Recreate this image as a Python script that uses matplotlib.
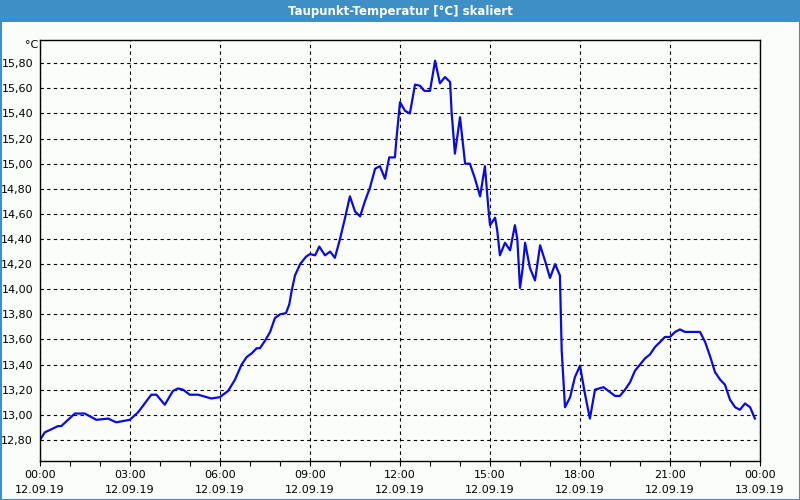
import matplotlib.pyplot as plt
from matplotlib.patches import Rectangle

# hours since 12.09.19 00:00 and dew point values
hours = [0.0, 0.16, 0.6, 0.71, 1.16, 1.49, 1.88, 2.27, 2.54, 2.99, 3.27, 3.49, 3.71, 3.88,
         4.16, 4.43, 4.6, 4.77, 4.99, 5.27, 5.71, 5.99, 6.27, 6.5, 6.72, 6.89, 7.06, 7.22,
         7.33, 7.5, 7.67, 7.83, 8.0, 8.2, 8.31, 8.39, 8.5, 8.67, 8.87, 9.0, 9.17, 9.31, 9.5,
         9.67, 9.83, 10.0, 10.17, 10.33, 10.5, 10.67, 10.83, 11.0, 11.17, 11.33, 11.5, 11.64,
         11.83, 11.89, 12.0, 12.17, 12.33, 12.5, 12.67, 12.81, 13.0, 13.17, 13.33, 13.5,
         13.67, 13.72, 13.83, 13.89, 14.0, 14.17, 14.33, 14.5, 14.67, 14.83, 14.94, 15.0,
         15.17, 15.24, 15.33, 15.5, 15.67, 15.83, 15.91, 16.0, 16.09, 16.17, 16.33, 16.5,
         16.67, 16.83, 17.0, 17.17, 17.33, 17.39, 17.5, 17.67, 17.83, 18.0, 18.17, 18.33,
         18.5, 18.78, 19.0, 19.17, 19.33, 19.5, 19.67, 19.83, 20.0, 20.17, 20.33, 20.5,
         20.67, 20.83, 21.0, 21.17, 21.33, 21.5, 21.78, 22.0, 22.17, 22.33, 22.5, 22.67,
         22.83, 23.0, 23.17, 23.33, 23.5, 23.67, 23.83]
values = [12.80, 12.86, 12.91, 12.91, 13.01, 13.01, 12.96, 12.97, 12.94, 12.96, 13.02, 13.09,
          13.16, 13.16, 13.08, 13.19, 13.21, 13.20, 13.16, 13.16, 13.13, 13.14, 13.19, 13.28,
          13.40, 13.46, 13.49, 13.53, 13.53, 13.59, 13.66, 13.77, 13.80, 13.81, 13.88, 13.99,
          14.11, 14.20, 14.26, 14.28, 14.27, 14.34, 14.27, 14.30, 14.25, 14.40, 14.57, 14.74,
          14.62, 14.58, 14.70, 14.81, 14.96, 14.98, 14.88, 15.05, 15.05, 15.22, 15.49, 15.42,
          15.40, 15.63, 15.62, 15.58, 15.58, 15.82, 15.64, 15.69, 15.65, 15.41, 15.08, 15.18,
          15.37, 15.00, 15.00, 14.88, 14.74, 14.98, 14.66, 14.51, 14.57, 14.47, 14.27, 14.37,
          14.31, 14.51, 14.40, 14.01, 14.17, 14.37, 14.17, 14.07, 14.35, 14.23, 14.09, 14.20,
          14.11, 13.51, 13.06, 13.14, 13.30, 13.39, 13.16, 12.97, 13.20, 13.22, 13.18, 13.15,
          13.15, 13.20, 13.26, 13.35, 13.40, 13.45, 13.48, 13.54, 13.58, 13.62, 13.62, 13.66,
          13.68, 13.66, 13.66, 13.66, 13.58, 13.47, 13.34, 13.28, 13.24, 13.12, 13.06, 13.04,
          13.09, 13.06, 12.97]

tick_hours = [0, 3, 6, 9, 12, 15, 18, 21, 24]
tick_labels = ["00:00\n12.09.19", "03:00\n12.09.19", "06:00\n12.09.19", "09:00\n12.09.19",
               "12:00\n12.09.19", "15:00\n12.09.19", "18:00\n12.09.19", "21:00\n12.09.19",
               "00:00\n13.09.19"]
y_ticks = [12.8, 13.0, 13.2, 13.4, 13.6, 13.8, 14.0, 14.2, 14.4, 14.6, 14.8, 15.0, 15.2,
           15.4, 15.6, 15.8]

bg = '#fbfdfb'
fig = plt.figure(figsize=(8, 5), dpi=100, facecolor=bg)

# title bar and window border
fig.patches.append(Rectangle((0, 1 - 22/500), 1, 22/500, transform=fig.transFigure,
                             facecolor='#3d8fc4', edgecolor='none'))
fig.patches.append(Rectangle((0.5/800, 0.5/500), 799/800, 499/500, transform=fig.transFigure,
                             facecolor='none', edgecolor='#3d8fc4', linewidth=1.5))
fig.text(0.5, 1 - 11/500, "Taupunkt-Temperatur [°C] skaliert", color='white',
         fontsize=8.5, fontweight='bold', ha='center', va='center')

ax = fig.add_axes([40/800, 39/500, 720/800, 421/500], facecolor=bg)
ax.plot(hours, values, color='#0a0ae6', linewidth=1.6)

ax.set_xlim(0, 24)
ax.set_ylim(12.632, 15.985)

ax.set_xticks(tick_hours)
ax.set_xticklabels(tick_labels, fontsize=8, linespacing=1.65)
ax.set_xticks(range(25), minor=True)
ax.set_yticks(y_ticks)
ax.set_yticklabels([f"{v:.2f}".replace('.', ',') for v in y_ticks], fontsize=8)

ax.tick_params(axis='x', which='both', direction='out', length=3.5, width=0.8, pad=3)
ax.tick_params(axis='y', length=0, pad=5)

ax.grid(True, which='major', color='black', linestyle=(0, (3, 3)), linewidth=0.8)
for s in ax.spines.values():
    s.set_linewidth(1.0)
    s.set_color('black')

ax.text(-0.003, 1.0, "°C", transform=ax.transAxes, fontsize=8, ha='right', va='top')

fig.savefig("out.png", dpi=100, facecolor=bg)
